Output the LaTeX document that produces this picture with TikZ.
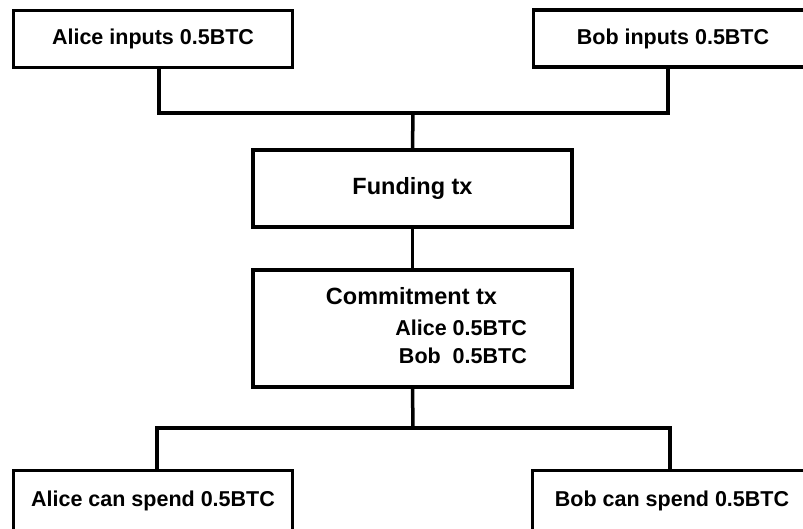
\documentclass[tikz,border=0pt]{standalone}
\usepackage{fontspec}
\setmainfont{Liberation Sans}
\usepackage{tikz}
\usetikzlibrary{positioning}
\tikzset{
  txbox/.style={
    draw, line width=3.5pt, rectangle,
    minimum width=279, minimum height=57,
    font=\fontsize{21.5}{26}\selectfont\bfseries,
  },
  outbox/.style={
    txbox, anchor=base, inner ysep=0pt,
    text height=36pt, text depth=30pt,
  },
  bigbox/.style={
    txbox, minimum width=319,
    font=\fontsize{23.5}{28}\selectfont\bfseries,
  },
  txtext/.style={
    inner sep=0pt,
    font=\fontsize{21.5}{26}\selectfont\bfseries,
  },
  link/.style={line width=3.5pt},
}
\begin{document}
\begin{tikzpicture}[x=1pt, y=-1pt]

  \useasboundingbox (0,0) rectangle (803,529);
  \clip (0,0) rectangle (803,529);

  % Define nodes
  \node[txbox] (alice_in) at (153,39) {Alice inputs 0.5BTC};
  \node[txbox] (bob_in) at (673,38.5) {Bob inputs 0.5BTC};

  \node[bigbox, minimum height=77] (funding) at (412.5,188.5) {Funding tx};

  \node[bigbox, minimum height=117] (commit) at (412.5,328.5) {};
  \node[txtext, anchor=base, font=\fontsize{23.5}{28}\selectfont\bfseries] (commit_title) at (411.5,305) {Commitment tx};
  \node[txtext, anchor=base east] (commit_alice) at (527,335) {Alice 0.5BTC};
  \node[txtext, anchor=base east] (commit_bob) at (527,363) {Bob~~0.5BTC};

  \node[outbox] (alice_out) at (153,506.7) {Alice can spend 0.5BTC};
  \node[outbox] (bob_out) at (672,506.7) {Bob can spend 0.5BTC};

  \coordinate (in_join) at (413,113);
  \coordinate (out_join) at (413,428);

  % Connect nodes
  \draw[link] ([xshift=6]alice_in.south) |- (in_join) -| ([xshift=-5]bob_in.south);
  \draw[link] (in_join) -- (funding.north);
  \draw[link] (funding.south) -- (commit.north);
  \draw[link] (commit.south) -- (out_join);
  \draw[link] ([xshift=4]alice_out.north) |- (out_join) -| ([xshift=-2]bob_out.north);

\end{tikzpicture}
\end{document}
